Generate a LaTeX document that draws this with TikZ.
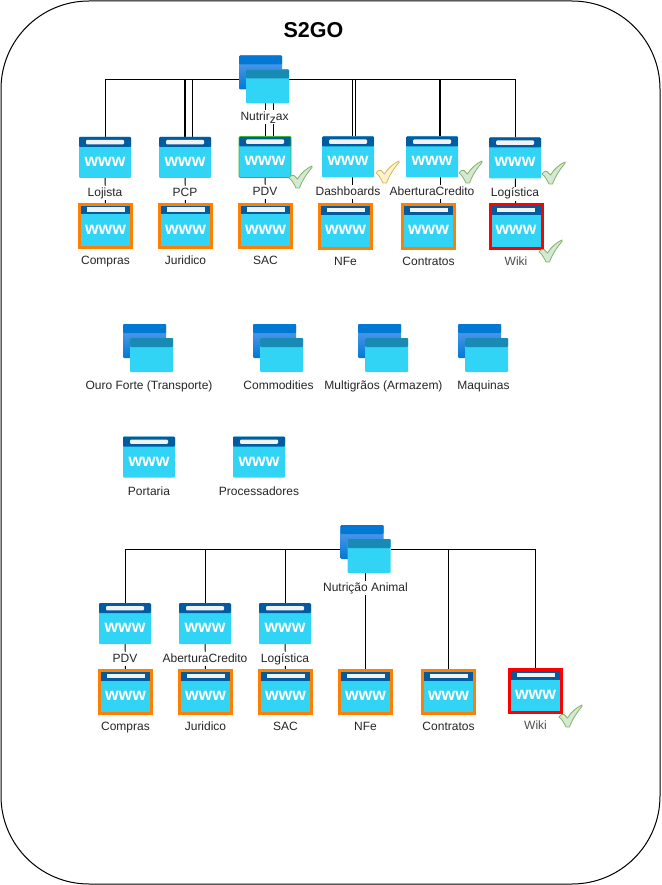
\documentclass[tikz,border=0pt]{standalone}
\usepackage{fontspec}
\setmainfont{Liberation Sans}
\usetikzlibrary{positioning, backgrounds}

\definecolor{wwwbody}{HTML}{32D4F5}
\definecolor{wwwhead}{HTML}{005BA1}
\definecolor{wwwbar}{HTML}{F2F2F2}
\definecolor{grpdark}{HTML}{0078D4}
\definecolor{grplight}{HTML}{5EA0EF}
\definecolor{grphead}{HTML}{198AB3}
\definecolor{okfill}{HTML}{D5E8D4}
\definecolor{okdraw}{HTML}{82B366}
\definecolor{warnfill}{HTML}{FFF2CC}
\definecolor{warndraw}{HTML}{D6B656}
\definecolor{pdvgreen}{HTML}{33BB33}
\definecolor{framered}{HTML}{FF0000}
\definecolor{frameorange}{HTML}{FF8000}

\begin{document}
\begin{tikzpicture}[
    x=1pt, y=-1pt,
    wwwbox/.style={rectangle, inner sep=0pt, outer sep=0pt, fill=wwwbody, rounded corners=1pt, minimum width=52pt, minimum height=41pt,
        text=white, text height=29.5pt, text depth=11.5pt, font=\fontsize{17.5}{18}\selectfont\bfseries,
        path picture={
            \fill[wwwhead] (path picture bounding box.north west) rectangle ([yshift=-10pt]path picture bounding box.north east);
            \fill[wwwbar] ([xshift=-19pt,yshift=-3pt]path picture bounding box.north) rectangle ([xshift=19pt,yshift=-7.3pt]path picture bounding box.north);
        }},
    orangebox/.style={wwwbox, draw=frameorange, line width=3pt, outer sep=1.5pt, rounded corners=0pt, minimum height=43pt, text height=29.5pt, text depth=13.5pt},
    redbox/.style={orangebox, draw=framered},
    grpbox/.style={rectangle, inner sep=0pt, outer sep=0pt, minimum width=50pt, minimum height=48pt,
        path picture={
            \coordinate (grpnw) at (path picture bounding box.north west);
            \shade[top color=grplight, bottom color=grpdark, rounded corners=1pt] (grpnw) ++(0pt,0pt) rectangle ++(43pt,-34pt);
            \fill[grpdark, rounded corners=1pt] (grpnw) rectangle ++(43pt,-9pt);
            \fill[wwwbody, rounded corners=1pt] ([shift={(7pt,-14pt)}]grpnw) rectangle ++(43pt,-34pt);
            \fill[grphead, rounded corners=1pt] ([shift={(7pt,-14pt)}]grpnw) rectangle ++(43pt,-9pt);
        }},
    lbl/.style={fill=white, text=black!85, inner sep=1pt, text height=9pt, text depth=3pt, font=\fontsize{12}{14}\selectfont},
    conn/.style={black, line width=0.9pt},
    connthick/.style={black, line width=1.25pt},
    okmark/.pic={
        \draw[line width=0.8pt, #1, line join=round] (0,12) .. controls (2,9) and (4,9) .. (5,9.5) -- (8.5,13) .. controls (12,7) and (18,2) .. (23,0) -- (23,1.5) .. controls (18,7) and (13,15) .. (10.5,22) -- (7,22) .. controls (5,18) and (3,14) .. (0,12) -- cycle;
    }
]

\useasboundingbox (0,0) rectangle (661,885);

% Outer frame and title
\node[draw=black, line width=1pt, rounded corners=88pt, minimum width=659pt, minimum height=883pt, inner sep=0pt] (frame) at (330.5,442.5) {};
\node[font=\fontsize{21.5}{24}\selectfont\bfseries, inner sep=0pt] (title) at (313.5,30.5) {S2GO};

% Nutrirax group
\node[grpbox] (nutri) at (264,79.5) {};
\node[lbl, below=6.5pt of nutri, xshift=0.5pt] (nutrilbl) {Nutrir\raisebox{-3pt}{z}ax};

% First row
\node[wwwbox] (lojista) at (105,157.5) {www};
\node[wwwbox, right=28pt of lojista] (pcp) {www};
\node[wwwbox, right=28pt of pcp, yshift=0.5pt, draw=pdvgreen, line width=0.7pt] (pdv) {www};
\node[wwwbox, right=31pt of pdv] (dash) {www};
\node[wwwbox, right=32pt of dash] (credito) {www};
\node[wwwbox, right=31pt of credito, yshift=-1pt] (logist) {www};

% Second row
\node[orangebox, below=25pt of lojista, xshift=0.5pt] (compras) {www};
\node[orangebox, below=25pt of pcp, xshift=0.5pt] (juridico) {www};
\node[orangebox, below=25pt of pdv, xshift=0.5pt, yshift=-0.5pt] (sac) {www};
\node[orangebox, below=25pt of dash, xshift=-2.5pt, yshift=-1pt] (nfe) {www};
\node[orangebox, below=25pt of credito, xshift=-3.5pt, yshift=-1pt] (contratos) {www};
\node[redbox, below=25pt of logist, xshift=1pt] (wiki) {www};

% Labels of the first two rows
\node[lbl, below=8pt of lojista] (lojistalbl) {Lojista};
\node[lbl, below=8pt of pcp] (pcplbl) {PCP};
\node[lbl, below=7.5pt of pdv] (pdvlbl) {PDV};
\node[lbl, below=7.5pt of dash] (dashlbl) {Dashboards};
\node[lbl, below=7.5pt of credito] (creditolbl) {AberturaCredito};
\node[lbl, below=8pt of logist] (logistlbl) {Logística};
\node[lbl, below=5.5pt of compras] (compraslbl) {Compras};
\node[lbl, below=5.5pt of juridico] (juridicolbl) {Juridico};
\node[lbl, below=5.5pt of sac] (saclbl) {SAC};
\node[lbl, below=5.5pt of nfe] (nfelbl) {NFe};
\node[lbl, below=5.5pt of contratos] (contratoslbl) {Contratos};
\node[lbl, below=5.5pt of wiki, text=black!70] (wikilbl) {Wiki};

% Checks of the upper block
\pic at (289,166) {okmark={fill=okfill, draw=okdraw}};
\pic at (376,161) {okmark={fill=warnfill, draw=warndraw}};
\pic at (459,161) {okmark={fill=okfill, draw=okdraw}};
\pic at (542,162) {okmark={fill=okfill, draw=okdraw}};
\pic at (539,240) {okmark={fill=okfill, draw=okdraw}};

% Middle block
\node[grpbox] (ouro) at (148,348) {};
\node[grpbox, right=80pt of ouro] (commod) {};
\node[grpbox, right=55pt of commod] (multi) {};
\node[grpbox, right=50pt of multi] (maquinas) {};
\node[lbl, below=7pt of ouro, xshift=1pt] (ourolbl) {Ouro Forte (Transporte)};
\node[lbl, below=7pt of commod, xshift=0.5pt] (commodlbl) {Commodities};
\node[lbl, below=7pt of multi, xshift=0.5pt] (multilbl) {Multigrãos (Armazem)};
\node[lbl, below=7pt of maquinas, xshift=0.5pt] (maquinaslbl) {Maquinas};
\node[wwwbox] (portaria) at (149,457) {www};
\node[wwwbox, right=58pt of portaria] (proc) {www};
\node[lbl, below=7.5pt of portaria] (portarialbl) {Portaria};
\node[lbl, below=7.5pt of proc] (proclbl) {Processadores};

% Nutricao Animal group
\node[grpbox] (animal) at (365.5,549) {};
\node[lbl, below=8pt of animal] (animallbl) {Nutrição Animal};

% Lower rows
\node[wwwbox] (pdvb) at (125,623.5) {www};
\node[wwwbox, right=28pt of pdvb] (creditob) {www};
\node[wwwbox, right=28pt of creditob] (logistb) {www};
\node[orangebox, below=25pt of pdvb, xshift=0.5pt] (comprasb) {www};
\node[orangebox, below=25pt of creditob, xshift=0.5pt] (juridicob) {www};
\node[orangebox, below=25pt of logistb, xshift=0.5pt] (sacb) {www};
\node[orangebox, right=25pt of sacb] (nfeb) {www};
\node[orangebox, right=28pt of nfeb] (contratosb) {www};
\node[redbox, right=32pt of contratosb, yshift=1pt] (wikib) {www};
\node[lbl, below=8pt of pdvb] (pdvblbl) {PDV};
\node[lbl, below=8pt of creditob] (creditoblbl) {AberturaCredito};
\node[lbl, below=8pt of logistb] (logistblbl) {Logística};
\node[lbl, below=5.5pt of comprasb] (comprasblbl) {Compras};
\node[lbl, below=5.5pt of juridicob] (juridicoblbl) {Juridico};
\node[lbl, below=5.5pt of sacb] (sacblbl) {SAC};
\node[lbl, below=5.5pt of nfeb] (nfeblbl) {NFe};
\node[lbl, below=5.5pt of contratosb] (contratosblbl) {Contratos};
\node[lbl, below=5.5pt of wikib, text=black!70] (wikiblbl) {Wiki};
\pic at (559,705) {okmark={fill=okfill, draw=okdraw}};

% Connectors
\begin{scope}[on background layer]
    \draw[conn] (nutri) -| (lojista);
    \draw[connthick] (nutri) -| (pcp);
    \draw[conn] (nutri) -| ([xshift=7pt]pcp.north);
    \draw[conn] (pdv.north) -- (pdv.north |- nutri.south);
    \draw[conn] ([xshift=8pt]pdv.north) -- ([xshift=8pt]pdv.north |- nutri.south);
    \draw[connthick] (nutri) -| ([xshift=4.7pt]dash.north);
    \draw[conn] (nutri) -| ([xshift=7pt]dash.north);
    \draw[connthick] (nutri) -| ([xshift=8pt]credito.north);
    \draw[conn] (nutri) -| (logist);
    \draw[conn] (lojista) -- (compras);
    \draw[conn] (pcp) -- (juridico);
    \draw[conn] (pdv) -- (sac);
    \draw[conn] ([xshift=4.7pt]dash.south) -- ([xshift=4.7pt]dash.south |- nfe.north);
    \draw[conn] ([xshift=8pt]credito.south) -- ([xshift=8pt]credito.south |- contratos.north);
    \draw[conn] (logist) -- (wiki);
    \draw[conn] (animal) -| (pdvb);
    \draw[conn] (animal) -| (creditob);
    \draw[conn] (animal) -| (logistb);
    \draw[conn] (animal) -- (nfeb);
    \draw[conn] (animal) -| (contratosb);
    \draw[conn] (animal) -| (wikib);
    \draw[conn] (pdvb) -- (comprasb);
    \draw[conn] (creditob) -- (juridicob);
    \draw[conn] (logistb) -- (sacb);
\end{scope}

\end{tikzpicture}
\end{document}
